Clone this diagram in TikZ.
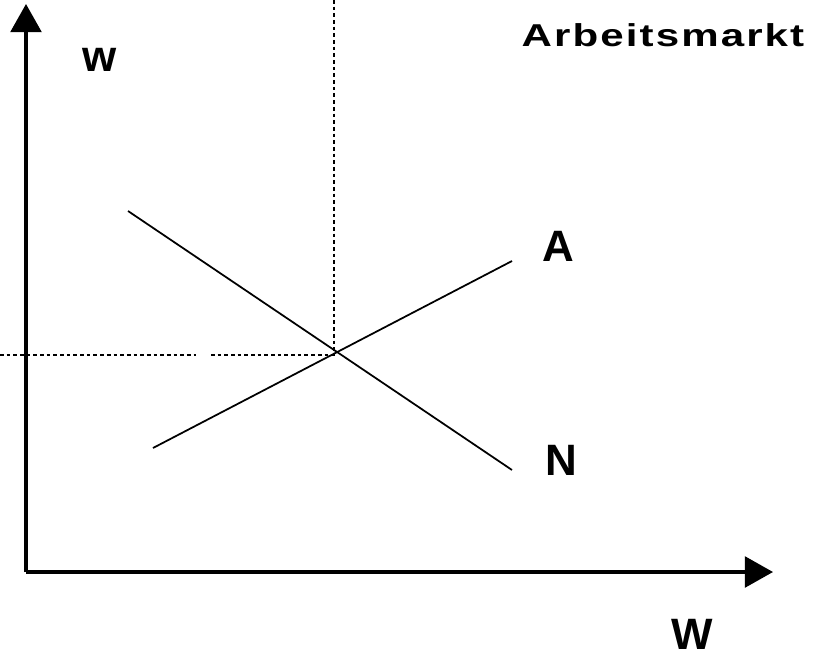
\documentclass[tikz,border=0pt]{standalone}
\usepackage{fontspec}
\setmainfont{Liberation Sans}
\newfontfamily\titlefont[LetterSpace=5]{Liberation Sans}
\usetikzlibrary{arrows.meta}

\begin{document}
\begin{tikzpicture}[
        x=0.02cm,
        y=-0.02cm,
        line join=round,
        % styles
        axis/.style={line width=1.9pt,-{Triangle[length=16pt,width=17.5pt]}},
        curve/.style={line width=1pt},
        guide/.style={line width=1.7pt,dash pattern=on 2.1pt off 1.7pt},
        lab/.style={font=\bfseries\fontsize{25}{30}\selectfont},
        title/.style={font=\titlefont\bfseries\fontsize{18}{21}\selectfont,
            xscale=1.33,transform shape},
    ]
    \useasboundingbox (0,0) rectangle (821,659);

    % points
    \coordinate (O) at (26,572);
    \coordinate (Y) at (26,4);
    \coordinate (X) at (773,572);
    \coordinate (E) at (337,353);
    \coordinate (N0) at (128,211);
    \coordinate (N1) at (512,470);
    \coordinate (A0) at (153,448);
    \coordinate (A1) at (512,261);
    \coordinate (T) at (334,0);
    \coordinate (L0) at (0,355);
    \coordinate (L1) at (196,355);
    \coordinate (L2) at (211,355);

    % axes
    \draw[axis] (O) -- (Y);
    \draw[axis] (O) -- (X);

    % supply and demand
    \draw[curve] (N0) -- (N1);
    \draw[curve] (A0) -- (A1);

    % dotted guides
    \draw[guide] (T) -- (T |- E);
    \draw[guide] (L0) -- (L1);
    \draw[guide] (L2) -- (E |- L2);

    % labels
    \node[lab] (w) at (100,60) {w};
    \node[lab] (Wlab) at (692,634) {W};
    \node[lab] (Alab) at (558,246) {A};
    \node[lab] (Nlab) at (561,460) {N};
    \node[title] (mkt) at (663,35) {Arbeitsmarkt};
\end{tikzpicture}
\end{document}
